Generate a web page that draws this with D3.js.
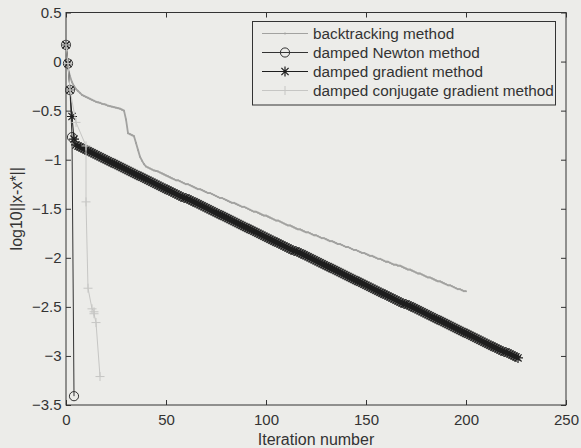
<!DOCTYPE html>
<html>
<head>
<meta charset="utf-8">
<script src="https://cdn.jsdelivr.net/npm/d3@7"></script>
<style>
  html, body { margin: 0; padding: 0; background: #ecece9; }
  svg { display: block; font-family: "Liberation Sans", Arial, Helvetica, sans-serif; }
</style>
</head>
<body>
<svg id="chart" width="581" height="448"></svg>
<script>
// Axis ticks
const xTicks = [0, 50, 100, 150, 200, 250];
const yTicks = [-3.5, -3, -2.5, -2, -1.5, -1, -0.5, 0, 0.5];

// Legend entries, in plotting order
const seriesNames = [
  "backtracking method",
  "damped Newton method",
  "damped gradient method",
  "damped conjugate gradient method"
];

// log10||x - x*|| per iteration (iteration = array position)
const backtracking = [
  0.17, -0.07, -0.15, -0.21, -0.25, -0.28, -0.30, -0.32, -0.34, -0.35,
  -0.36, -0.37, -0.38, -0.39, -0.40, -0.41, -0.415, -0.42, -0.43, -0.435,
  -0.44, -0.45, -0.455, -0.46, -0.465, -0.47, -0.475, -0.48, -0.49, -0.50,
  -0.59, -0.73, -0.74, -0.75, -0.76, -0.83, -0.90, -0.97, -1.01, -1.045,
  -1.07, -1.08, -1.09, -1.10, -1.11, -1.115, -1.12, -1.13, -1.14, -1.15,
  -1.16,
  -1.17, -1.18, -1.19, -1.20, -1.21, -1.21, -1.22, -1.23, -1.24, -1.25,
  -1.25, -1.26, -1.27, -1.28, -1.29, -1.30, -1.30, -1.31, -1.32, -1.33,
  -1.34, -1.34, -1.35, -1.36, -1.37, -1.38, -1.39, -1.39, -1.40, -1.41,
  -1.42, -1.43, -1.44, -1.44, -1.45, -1.46, -1.47, -1.48, -1.48, -1.49,
  -1.50, -1.51, -1.52, -1.53, -1.53, -1.54, -1.55, -1.56, -1.57, -1.57,
  -1.58, -1.59, -1.60, -1.61, -1.62, -1.62, -1.63, -1.64, -1.65, -1.66,
  -1.67, -1.67, -1.68, -1.69, -1.70, -1.71, -1.71,
  -1.72, -1.73, -1.74, -1.74, -1.75, -1.76, -1.77, -1.77, -1.78, -1.79,
  -1.80, -1.80, -1.81, -1.82, -1.83, -1.83, -1.84, -1.85, -1.86, -1.86,
  -1.87, -1.88, -1.89, -1.89, -1.90, -1.91, -1.92, -1.92, -1.93, -1.94,
  -1.95, -1.95, -1.96, -1.97, -1.98, -1.98, -1.99, -2.00, -2.01, -2.01,
  -2.02, -2.03, -2.04, -2.04, -2.05, -2.06, -2.07, -2.07, -2.08, -2.08,
  -2.09, -2.10, -2.11, -2.12, -2.12, -2.13, -2.14, -2.15, -2.16, -2.16,
  -2.17, -2.18, -2.19, -2.20, -2.20, -2.21, -2.22, -2.23, -2.24, -2.24,
  -2.25, -2.26, -2.27, -2.28, -2.28, -2.29, -2.30, -2.31, -2.32, -2.32,
  -2.33, -2.34, -2.34
];

const newtonIter = [0, 1, 2, 3, 4];
const newton = [0.17, -0.02, -0.29, -0.77, -3.41];

const gradient = [
  0.17, -0.02, -0.29, -0.56, -0.79, -0.85,
  -0.86, -0.87, -0.88, -0.89, -0.90, -0.91, -0.92, -0.93, -0.94, -0.95,
  -0.96, -0.97, -0.98, -0.99, -1.00, -1.01, -1.02, -1.03, -1.04, -1.05,
  -1.06, -1.07, -1.08, -1.09, -1.10, -1.11, -1.12, -1.13, -1.14, -1.15,
  -1.16, -1.17, -1.18, -1.19, -1.20, -1.21, -1.22, -1.23, -1.24, -1.25,
  -1.26, -1.27, -1.28, -1.29, -1.30, -1.31, -1.32, -1.33, -1.34, -1.35,
  -1.36, -1.37, -1.38, -1.39,
  -1.39,
  -1.40, -1.41, -1.42, -1.43, -1.44, -1.45, -1.46, -1.47, -1.48, -1.49,
  -1.50, -1.51, -1.52, -1.53, -1.54, -1.55, -1.56, -1.57, -1.58, -1.59,
  -1.60, -1.61, -1.62, -1.63, -1.64, -1.65, -1.66, -1.67, -1.68, -1.69,
  -1.70, -1.71, -1.72, -1.73, -1.74, -1.75, -1.76, -1.77, -1.78, -1.79,
  -1.80, -1.81, -1.82, -1.83, -1.84, -1.85, -1.86, -1.87, -1.88, -1.89,
  -1.90, -1.91, -1.92, -1.93,
  -1.93,
  -1.94, -1.95, -1.96, -1.97, -1.98, -1.99, -2.00, -2.01, -2.02, -2.03,
  -2.04, -2.05, -2.06, -2.07, -2.08, -2.09, -2.10, -2.11, -2.12, -2.13,
  -2.14, -2.15, -2.16, -2.17, -2.18, -2.19, -2.20, -2.21, -2.22, -2.23,
  -2.24, -2.25, -2.26, -2.27, -2.28, -2.29, -2.30, -2.31, -2.32, -2.33,
  -2.34, -2.35, -2.36, -2.37, -2.38, -2.39, -2.40, -2.41, -2.42, -2.43,
  -2.44, -2.45, -2.46, -2.47,
  -2.47,
  -2.48, -2.49, -2.50, -2.51, -2.52, -2.53, -2.54, -2.55, -2.56, -2.57,
  -2.58, -2.59, -2.60, -2.61, -2.62, -2.63, -2.64, -2.65, -2.66, -2.67,
  -2.68, -2.69, -2.70, -2.71, -2.72, -2.73, -2.74, -2.75, -2.76, -2.77,
  -2.78, -2.79, -2.80, -2.81, -2.82, -2.83, -2.84, -2.85, -2.86, -2.87,
  -2.88, -2.89, -2.90, -2.91, -2.92, -2.93, -2.94, -2.95, -2.96,
  -2.96,
  -2.97, -2.98, -2.99, -3.00, -3.01, -3.02
];

const cgIter = [0, 1, 2, 5, 10, 10, 11, 13, 14, 14, 15, 17];
const cg = [0.17, -0.02, -0.29, -0.62, -0.86, -1.43, -2.31, -2.52, -2.55, -2.57, -2.66, -3.21];

// Layout
const W = 581, H = 448;
const m = { left: 66, right: 15, top: 12.5, bottom: 43 };
const svg = d3.select("#chart");

const x = d3.scaleLinear().domain([0, 250]).range([m.left, W - m.right]);
const y = d3.scaleLinear().domain([-3.5, 0.5]).range([H - m.bottom, m.top]);

const ink = "#333";
const fmt = d3.format("~g");

// Axes with inward ticks on all four sides
function styleAxis(g) {
  g.select(".domain").remove();
  g.selectAll(".tick line").attr("stroke", ink);
  g.selectAll(".tick text").attr("fill", ink).attr("font-size", 15);
}
svg.append("g").attr("transform", `translate(0,${y.range()[0]})`)
  .call(d3.axisBottom(x).tickValues(xTicks).tickFormat(fmt).tickSizeInner(-5).tickSizeOuter(0).tickPadding(9))
  .call(styleAxis);
svg.append("g").attr("transform", `translate(0,${y.range()[1]})`)
  .call(d3.axisTop(x).tickValues(xTicks).tickFormat("").tickSizeInner(-5).tickSizeOuter(0))
  .call(styleAxis);
svg.append("g").attr("transform", `translate(${x.range()[0]},0)`)
  .call(d3.axisLeft(y).tickValues(yTicks).tickFormat(fmt).tickSizeInner(-5).tickSizeOuter(0).tickPadding(4.5))
  .call(styleAxis);
svg.append("g").attr("transform", `translate(${x.range()[1]},0)`)
  .call(d3.axisRight(y).tickValues(yTicks).tickFormat("").tickSizeInner(-5).tickSizeOuter(0))
  .call(styleAxis);

svg.append("rect")
  .attr("x", x.range()[0]).attr("y", y.range()[1])
  .attr("width", x.range()[1] - x.range()[0]).attr("height", y.range()[0] - y.range()[1])
  .attr("fill", "none").attr("stroke", ink).attr("stroke-width", 1);

// Axis labels
svg.append("text")
  .attr("x", (x.range()[0] + x.range()[1]) / 2).attr("y", 445)
  .attr("text-anchor", "middle").attr("font-size", 16).attr("fill", ink)
  .text("Iteration number");
svg.append("text")
  .attr("transform", `translate(22,${(y.range()[0] + y.range()[1]) / 2}) rotate(-90)`)
  .attr("text-anchor", "middle").attr("font-size", 16).attr("fill", ink)
  .text("log10||x-x*||");

// Marker shapes
const starPath = s => {
  const d = s * 0.72;
  return `M${-s},0H${s}M0,${-s}V${s}M${-d},${-d}L${d},${d}M${-d},${d}L${d},${-d}`;
};
const plusPath = s => `M${-s},0H${s}M0,${-s}V${s}`;

const styles = [
  { color: "#a2a2a0", width: 1.8, marker: "dot" },
  { color: "#333", width: 1, marker: "circle" },
  { color: "#1e1e1e", width: 1, marker: "star" },
  { color: "#c6c6c4", width: 1, marker: "plus" }
];

function drawMarkers(g, pts, st) {
  if (st.marker === "dot") {
    g.selectAll("circle.m").data(pts).join("circle").attr("class", "m")
      .attr("cx", d => d[0]).attr("cy", d => d[1]).attr("r", 1).attr("fill", st.color);
  } else if (st.marker === "circle") {
    g.selectAll("circle.m").data(pts).join("circle").attr("class", "m")
      .attr("cx", d => d[0]).attr("cy", d => d[1]).attr("r", 4.6)
      .attr("fill", "none").attr("stroke", st.color).attr("stroke-width", 1);
  } else {
    const p = st.marker === "star" ? starPath(5) : plusPath(4.5);
    g.selectAll("path.m").data(pts).join("path").attr("class", "m")
      .attr("d", p).attr("transform", d => `translate(${d[0]},${d[1]})`)
      .attr("fill", "none").attr("stroke", st.color)
      .attr("stroke-width", st.marker === "star" ? 1.2 : 1);
  }
}

const seriesData = [
  backtracking.map((v, i) => [i, v]),
  newton.map((v, i) => [newtonIter[i], v]),
  gradient.map((v, i) => [i, v]),
  cg.map((v, i) => [cgIter[i], v])
];

const line = d3.line().x(d => x(d[0])).y(d => y(d[1]));

seriesData.forEach((data, k) => {
  const st = styles[k];
  const g = svg.append("g");
  g.append("path").datum(data).attr("d", line)
    .attr("fill", "none").attr("stroke", st.color).attr("stroke-width", st.width)
    .attr("stroke-linejoin", "round");
  drawMarkers(g, data.map(d => [x(d[0]), y(d[1])]), st);
});

// Legend
const lg = svg.append("g");
lg.append("rect").attr("x", 252.5).attr("y", 21.5).attr("width", 303).attr("height", 83.5)
  .attr("fill", "#ecece9").attr("stroke", ink).attr("stroke-width", 1);
seriesNames.forEach((name, k) => {
  const st = styles[k];
  const cy = 33.5 + k * 19;
  const row = lg.append("g");
  row.append("line").attr("x1", 262).attr("x2", 308).attr("y1", cy).attr("y2", cy)
    .attr("stroke", st.color).attr("stroke-width", st.width === 1.8 ? 1.2 : 1);
  drawMarkers(row, [[285, cy]], st);
  row.append("text").attr("x", 313).attr("y", cy).attr("dy", "0.35em")
    .attr("font-size", 15.3).attr("fill", ink).text(name);
});
</script>
</body>
</html>
